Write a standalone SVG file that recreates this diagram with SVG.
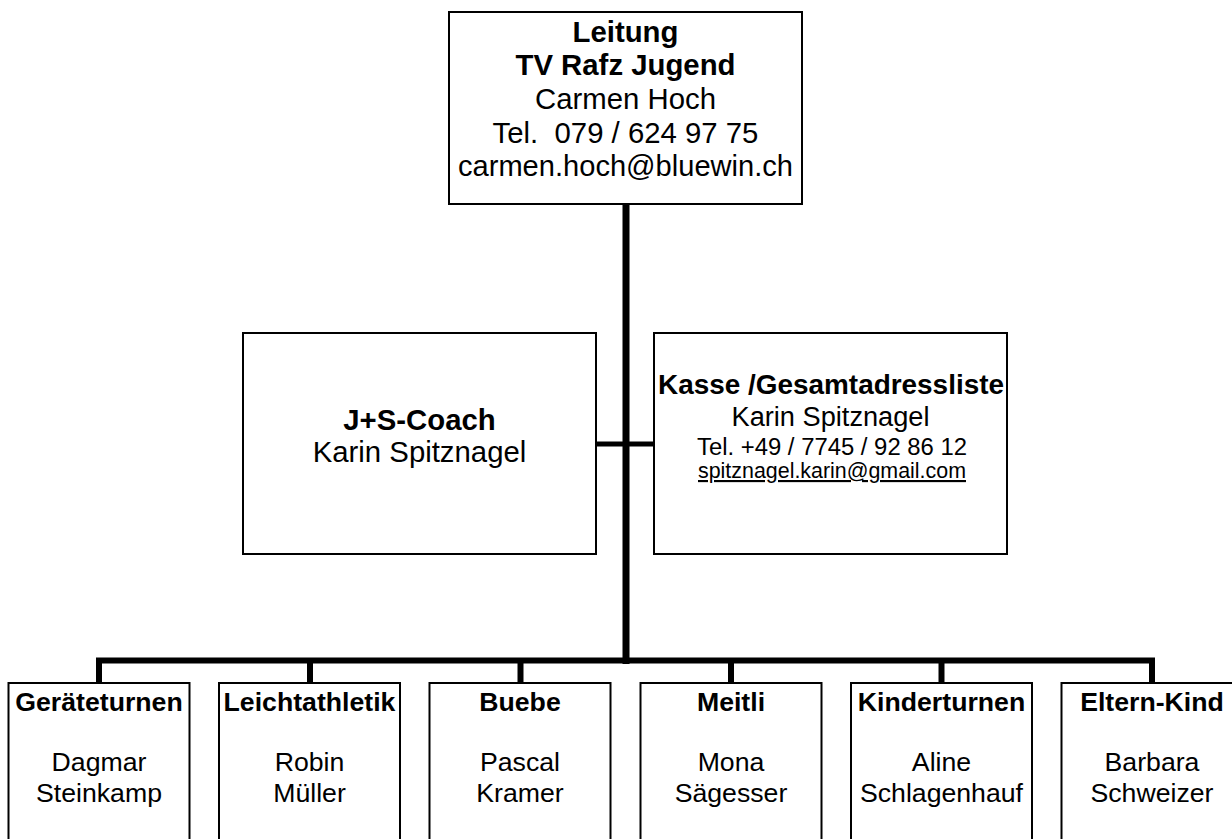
<svg xmlns="http://www.w3.org/2000/svg" width="1232" height="839" viewBox="0 0 1232 839">
<style>
  .box { fill: #ffffff; stroke: #000000; stroke-width: 2; }
  .conn { stroke: #000000; fill: none; stroke-linecap: butt; }
  text { font-family: "Liberation Sans", Arial, sans-serif; fill: #000000; text-anchor: middle; }
  .b { font-weight: bold; }
  .t22 { font-size: 29.33px; }
  .t20 { font-size: 26.67px; }
</style>
<rect x="0" y="0" width="1232" height="839" fill="#ffffff"/>
<g id="connectors">
  <line class="conn" x1="626" y1="204" x2="626" y2="664" stroke-width="7"/>
  <line class="conn" x1="596" y1="444" x2="654" y2="444" stroke-width="5"/>
  <line class="conn" x1="96" y1="660.5" x2="1155" y2="660.5" stroke-width="6"/>
  <line class="conn" x1="99" y1="660" x2="99" y2="683" stroke-width="6"/>
  <line class="conn" x1="310" y1="660" x2="310" y2="683" stroke-width="6"/>
  <line class="conn" x1="520.5" y1="660" x2="520.5" y2="683" stroke-width="6"/>
  <line class="conn" x1="731" y1="660" x2="731" y2="683" stroke-width="6"/>
  <line class="conn" x1="941.5" y1="660" x2="941.5" y2="683" stroke-width="6"/>
  <line class="conn" x1="1152" y1="660" x2="1152" y2="683" stroke-width="6"/>
</g>
<g id="leitung">
  <rect class="box" x="449" y="12" width="353" height="192"/>
  <text class="b t22" x="625.5" y="41.5">Leitung</text>
  <text class="b t22" x="625.5" y="75">TV Rafz Jugend</text>
  <text class="t22" x="625.5" y="109">Carmen Hoch</text>
  <text class="t22" x="625.5" y="142.5" xml:space="preserve">Tel.  079 / 624 97 75</text>
  <text class="t22" x="625.5" y="176" textLength="335" lengthAdjust="spacingAndGlyphs">carmen.hoch@bluewin.ch</text>
</g>
<g id="js-coach">
  <rect class="box" x="243" y="333" width="353" height="221"/>
  <text class="b t22" x="419.5" y="430">J+S-Coach</text>
  <text class="t22" x="419.5" y="462">Karin Spitznagel</text>
</g>
<g id="kasse">
  <rect class="box" x="654" y="333" width="353" height="221"/>
  <text class="b" x="831" y="394" font-size="28" textLength="346" lengthAdjust="spacingAndGlyphs">Kasse /Gesamtadressliste</text>
  <text x="830.5" y="426" font-size="27" textLength="198" lengthAdjust="spacingAndGlyphs">Karin Spitznagel</text>
  <text x="832" y="455" font-size="23.5" textLength="270" lengthAdjust="spacingAndGlyphs">Tel. +49 / 7745 / 92 86 12</text>
  <text x="832" y="478" font-size="21.4" textLength="268" lengthAdjust="spacingAndGlyphs" text-decoration="underline">spitznagel.karin@gmail.com</text>
</g>
<g id="geraeteturnen">
  <rect class="box" x="8.5" y="683" width="181" height="180"/>
  <text class="b t20" x="99" y="711">Geräteturnen</text>
  <text class="t20" x="99" y="771">Dagmar</text>
  <text class="t20" x="99" y="802">Steinkamp</text>
</g>
<g id="leichtathletik">
  <rect class="box" x="219" y="683" width="181" height="180"/>
  <text class="b t20" x="309.5" y="711">Leichtathletik</text>
  <text class="t20" x="309.5" y="771">Robin</text>
  <text class="t20" x="309.5" y="802">Müller</text>
</g>
<g id="buebe">
  <rect class="box" x="429.5" y="683" width="181" height="180"/>
  <text class="b t20" x="520" y="711">Buebe</text>
  <text class="t20" x="520" y="771">Pascal</text>
  <text class="t20" x="520" y="802">Kramer</text>
</g>
<g id="meitli">
  <rect class="box" x="640.5" y="683" width="181" height="180"/>
  <text class="b t20" x="731" y="711">Meitli</text>
  <text class="t20" x="731" y="771">Mona</text>
  <text class="t20" x="731" y="802">Sägesser</text>
</g>
<g id="kinderturnen">
  <rect class="box" x="851" y="683" width="181" height="180"/>
  <text class="b t20" x="941.5" y="711">Kinderturnen</text>
  <text class="t20" x="941.5" y="771">Aline</text>
  <text class="t20" x="941.5" y="802">Schlagenhauf</text>
</g>
<g id="eltern-kind">
  <rect class="box" x="1061.5" y="683" width="181" height="180"/>
  <text class="b t20" x="1152" y="711">Eltern-Kind</text>
  <text class="t20" x="1152" y="771">Barbara</text>
  <text class="t20" x="1152" y="802">Schweizer</text>
</g>
</svg>
